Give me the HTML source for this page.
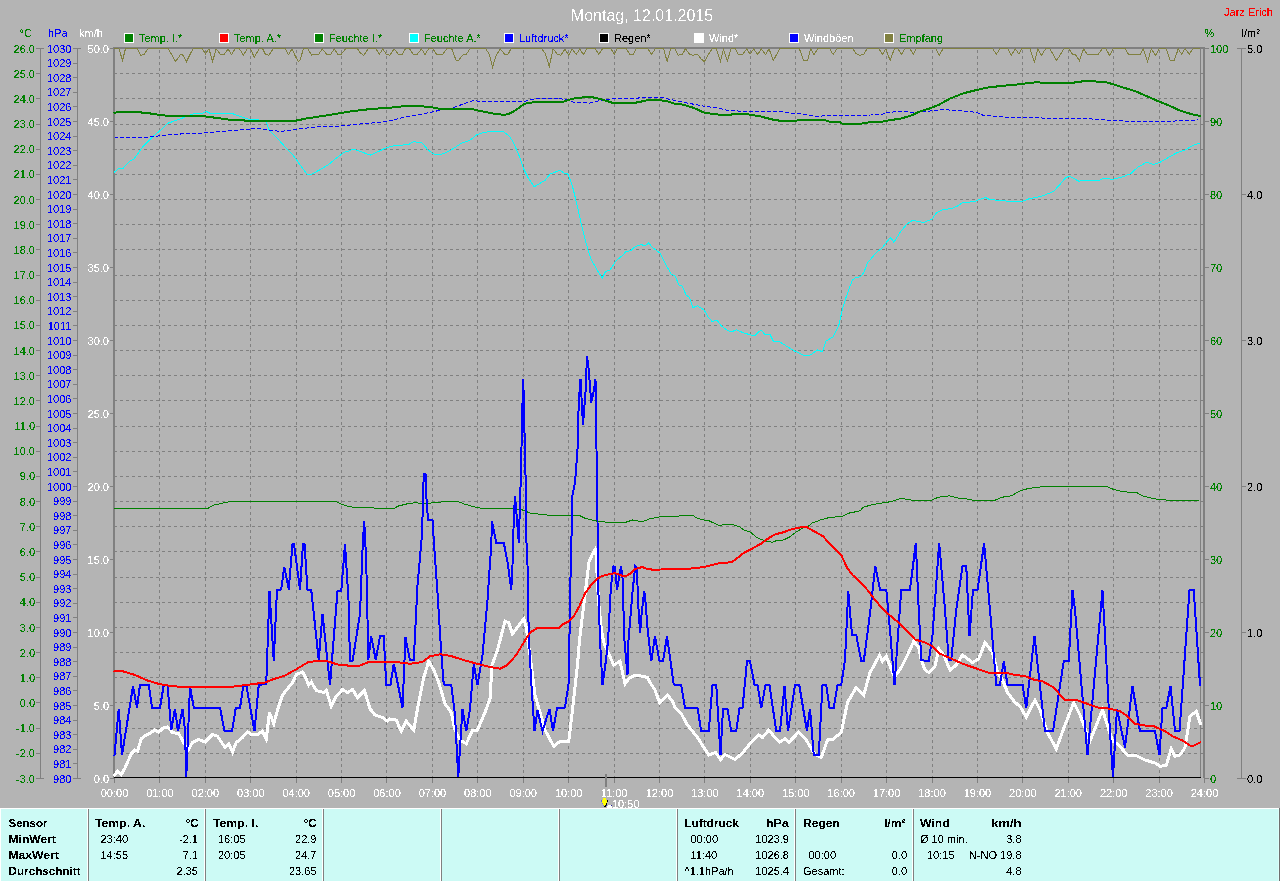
<!DOCTYPE html><html><head><meta charset="utf-8"><title>Montag, 12.01.2015</title><style>
html,body{margin:0;padding:0;background:#b4b4b4;width:1280px;height:881px;overflow:hidden}
svg{display:block}
text{font-family:"Liberation Sans",sans-serif;font-size:11px}
text{filter:url(#crisp)}
.b{font-weight:bold}
.n{font-size:11px}
</style></head><body>
<svg width="1280" height="881" viewBox="0 0 1280 881" shape-rendering="crispEdges">
<defs><filter id="crisp" x="-5%" y="-20%" width="110%" height="140%"><feComponentTransfer><feFuncA type="discrete" tableValues="0 0 0 0 0 0 0 0 0 1 1 1 1 1 1 1 1 1 1 1"/></feComponentTransfer></filter><filter id="crisp2" x="-5%" y="-20%" width="110%" height="140%"><feComponentTransfer><feFuncA type="discrete" tableValues="0 0 0 0 0 0 1 1 1 1"/></feComponentTransfer></filter></defs>
<rect x="0" y="0" width="1280" height="881" fill="#b4b4b4"/>
<text x="642" y="21" text-anchor="middle" fill="#ffffff" style="font-size:16px;filter:url(#crisp2)">Montag, 12.01.2015</text>
<text x="1273" y="16" text-anchor="end" fill="#ff0000">Jarz Erich</text>
<text x="19.5" y="37" fill="#008000">°C</text>
<text x="48" y="37" fill="#0000ff">hPa</text>
<text x="79" y="37" fill="#ffffff">km/h</text>
<text x="1204.5" y="37" fill="#008000">%</text>
<text x="1241.5" y="37" fill="#000000">l/m²</text>
<rect x="124" y="33" width="10" height="10" fill="#ffffff"/><rect x="125" y="34" width="8" height="8" fill="#008000"/>
<text x="139" y="42" fill="#008000">Temp. I.*</text>
<rect x="219" y="33" width="10" height="10" fill="#ffffff"/><rect x="220" y="34" width="8" height="8" fill="#ff0000"/>
<text x="234" y="42" fill="#008000">Temp. A.*</text>
<rect x="314" y="33" width="10" height="10" fill="#ffffff"/><rect x="315" y="34" width="8" height="8" fill="#008000"/>
<text x="329" y="42" fill="#008000">Feuchte I.*</text>
<rect x="409" y="33" width="10" height="10" fill="#ffffff"/><rect x="410" y="34" width="8" height="8" fill="#00ffff"/>
<text x="424" y="42" fill="#008000">Feuchte A.*</text>
<rect x="504" y="33" width="10" height="10" fill="#ffffff"/><rect x="505" y="34" width="8" height="8" fill="#0000ff"/>
<text x="519" y="42" fill="#0000ff">Luftdruck*</text>
<rect x="599" y="33" width="10" height="10" fill="#ffffff"/><rect x="600" y="34" width="8" height="8" fill="#000000"/>
<text x="614" y="42" fill="#000000">Regen*</text>
<rect x="694" y="33" width="10" height="10" fill="#ffffff"/><rect x="695" y="34" width="8" height="8" fill="#ffffff"/>
<text x="709" y="42" fill="#ffffff">Wind*</text>
<rect x="789" y="33" width="10" height="10" fill="#ffffff"/><rect x="790" y="34" width="8" height="8" fill="#0000ff"/>
<text x="804" y="42" fill="#ffffff">Windböen</text>
<rect x="884" y="33" width="10" height="10" fill="#ffffff"/><rect x="885" y="34" width="8" height="8" fill="#808040"/>
<text x="899" y="42" fill="#008000">Empfang</text>
<path d="M114 73.5H1201 M114 98.5H1201 M114 124.5H1201 M114 149.5H1201 M114 174.5H1201 M114 199.5H1201 M114 224.5H1201 M114 249.5H1201 M114 275.5H1201 M114 300.5H1201 M114 325.5H1201 M114 350.5H1201 M114 375.5H1201 M114 400.5H1201 M114 426.5H1201 M114 451.5H1201 M114 476.5H1201 M114 501.5H1201 M114 526.5H1201 M114 551.5H1201 M114 577.5H1201 M114 602.5H1201 M114 627.5H1201 M114 652.5H1201 M114 677.5H1201 M114 702.5H1201 M114 728.5H1201 M114 753.5H1201" stroke="#808080" stroke-width="1" stroke-dasharray="3 3" fill="none"/>
<path d="M159.5 48V783 M205.5 48V783 M250.5 48V783 M296.5 48V783 M341.5 48V783 M386.5 48V783 M432.5 48V783 M477.5 48V783 M523.5 48V783 M568.5 48V783 M614.5 48V783 M659.5 48V783 M704.5 48V783 M750.5 48V783 M795.5 48V783 M841.5 48V783 M886.5 48V783 M932.5 48V783 M977.5 48V783 M1022.5 48V783 M1068.5 48V783 M1113.5 48V783 M1159.5 48V783" stroke="#808080" stroke-width="1" stroke-dasharray="3 3" stroke-dashoffset="4" fill="none"/>
<rect x="113" y="47" width="2" height="731" fill="#808080"/>
<rect x="113" y="47" width="1092" height="2" fill="#808080"/>
<rect x="1200" y="47" width="1" height="731" fill="#808080"/>
<rect x="1203" y="47" width="2" height="731" fill="#808080"/>
<rect x="1201" y="73" width="2" height="1" fill="#808080"/><rect x="1201" y="98" width="2" height="1" fill="#808080"/><rect x="1201" y="124" width="2" height="1" fill="#808080"/><rect x="1201" y="149" width="2" height="1" fill="#808080"/><rect x="1201" y="174" width="2" height="1" fill="#808080"/><rect x="1201" y="199" width="2" height="1" fill="#808080"/><rect x="1201" y="224" width="2" height="1" fill="#808080"/><rect x="1201" y="249" width="2" height="1" fill="#808080"/><rect x="1201" y="275" width="2" height="1" fill="#808080"/><rect x="1201" y="300" width="2" height="1" fill="#808080"/><rect x="1201" y="325" width="2" height="1" fill="#808080"/><rect x="1201" y="350" width="2" height="1" fill="#808080"/><rect x="1201" y="375" width="2" height="1" fill="#808080"/><rect x="1201" y="400" width="2" height="1" fill="#808080"/><rect x="1201" y="426" width="2" height="1" fill="#808080"/><rect x="1201" y="451" width="2" height="1" fill="#808080"/><rect x="1201" y="476" width="2" height="1" fill="#808080"/><rect x="1201" y="501" width="2" height="1" fill="#808080"/><rect x="1201" y="526" width="2" height="1" fill="#808080"/><rect x="1201" y="551" width="2" height="1" fill="#808080"/><rect x="1201" y="577" width="2" height="1" fill="#808080"/><rect x="1201" y="602" width="2" height="1" fill="#808080"/><rect x="1201" y="627" width="2" height="1" fill="#808080"/><rect x="1201" y="652" width="2" height="1" fill="#808080"/><rect x="1201" y="677" width="2" height="1" fill="#808080"/><rect x="1201" y="702" width="2" height="1" fill="#808080"/><rect x="1201" y="728" width="2" height="1" fill="#808080"/><rect x="1201" y="753" width="2" height="1" fill="#808080"/>
<rect x="40" y="48" width="1" height="731" fill="#808080"/>
<rect x="77" y="48" width="1" height="731" fill="#808080"/>
<rect x="1241" y="48" width="1" height="731" fill="#808080"/>
<rect x="36" y="48" width="8" height="1" fill="#808080"/><rect x="36" y="73" width="4" height="1" fill="#808080"/><rect x="36" y="98" width="4" height="1" fill="#808080"/><rect x="36" y="124" width="4" height="1" fill="#808080"/><rect x="36" y="149" width="4" height="1" fill="#808080"/><rect x="36" y="174" width="4" height="1" fill="#808080"/><rect x="36" y="199" width="4" height="1" fill="#808080"/><rect x="36" y="224" width="4" height="1" fill="#808080"/><rect x="36" y="249" width="4" height="1" fill="#808080"/><rect x="36" y="275" width="4" height="1" fill="#808080"/><rect x="36" y="300" width="4" height="1" fill="#808080"/><rect x="36" y="325" width="4" height="1" fill="#808080"/><rect x="36" y="350" width="4" height="1" fill="#808080"/><rect x="36" y="375" width="4" height="1" fill="#808080"/><rect x="36" y="400" width="4" height="1" fill="#808080"/><rect x="36" y="426" width="4" height="1" fill="#808080"/><rect x="36" y="451" width="4" height="1" fill="#808080"/><rect x="36" y="476" width="4" height="1" fill="#808080"/><rect x="36" y="501" width="4" height="1" fill="#808080"/><rect x="36" y="526" width="4" height="1" fill="#808080"/><rect x="36" y="551" width="4" height="1" fill="#808080"/><rect x="36" y="577" width="4" height="1" fill="#808080"/><rect x="36" y="602" width="4" height="1" fill="#808080"/><rect x="36" y="627" width="4" height="1" fill="#808080"/><rect x="36" y="652" width="4" height="1" fill="#808080"/><rect x="36" y="677" width="4" height="1" fill="#808080"/><rect x="36" y="702" width="4" height="1" fill="#808080"/><rect x="36" y="728" width="4" height="1" fill="#808080"/><rect x="36" y="753" width="4" height="1" fill="#808080"/><rect x="36" y="778" width="8" height="1" fill="#808080"/><rect x="73" y="48" width="8" height="1" fill="#808080"/><rect x="73" y="63" width="4" height="1" fill="#808080"/><rect x="73" y="77" width="4" height="1" fill="#808080"/><rect x="73" y="92" width="4" height="1" fill="#808080"/><rect x="73" y="106" width="4" height="1" fill="#808080"/><rect x="73" y="121" width="4" height="1" fill="#808080"/><rect x="73" y="136" width="4" height="1" fill="#808080"/><rect x="73" y="150" width="4" height="1" fill="#808080"/><rect x="73" y="165" width="4" height="1" fill="#808080"/><rect x="73" y="179" width="4" height="1" fill="#808080"/><rect x="73" y="194" width="4" height="1" fill="#808080"/><rect x="73" y="209" width="4" height="1" fill="#808080"/><rect x="73" y="223" width="4" height="1" fill="#808080"/><rect x="73" y="238" width="4" height="1" fill="#808080"/><rect x="73" y="252" width="4" height="1" fill="#808080"/><rect x="73" y="267" width="4" height="1" fill="#808080"/><rect x="73" y="282" width="4" height="1" fill="#808080"/><rect x="73" y="296" width="4" height="1" fill="#808080"/><rect x="73" y="311" width="4" height="1" fill="#808080"/><rect x="73" y="325" width="4" height="1" fill="#808080"/><rect x="73" y="340" width="4" height="1" fill="#808080"/><rect x="73" y="355" width="4" height="1" fill="#808080"/><rect x="73" y="369" width="4" height="1" fill="#808080"/><rect x="73" y="384" width="4" height="1" fill="#808080"/><rect x="73" y="398" width="4" height="1" fill="#808080"/><rect x="73" y="413" width="4" height="1" fill="#808080"/><rect x="73" y="428" width="4" height="1" fill="#808080"/><rect x="73" y="442" width="4" height="1" fill="#808080"/><rect x="73" y="457" width="4" height="1" fill="#808080"/><rect x="73" y="471" width="4" height="1" fill="#808080"/><rect x="73" y="486" width="4" height="1" fill="#808080"/><rect x="73" y="501" width="4" height="1" fill="#808080"/><rect x="73" y="515" width="4" height="1" fill="#808080"/><rect x="73" y="530" width="4" height="1" fill="#808080"/><rect x="73" y="544" width="4" height="1" fill="#808080"/><rect x="73" y="559" width="4" height="1" fill="#808080"/><rect x="73" y="574" width="4" height="1" fill="#808080"/><rect x="73" y="588" width="4" height="1" fill="#808080"/><rect x="73" y="603" width="4" height="1" fill="#808080"/><rect x="73" y="617" width="4" height="1" fill="#808080"/><rect x="73" y="632" width="4" height="1" fill="#808080"/><rect x="73" y="647" width="4" height="1" fill="#808080"/><rect x="73" y="661" width="4" height="1" fill="#808080"/><rect x="73" y="676" width="4" height="1" fill="#808080"/><rect x="73" y="690" width="4" height="1" fill="#808080"/><rect x="73" y="705" width="4" height="1" fill="#808080"/><rect x="73" y="720" width="4" height="1" fill="#808080"/><rect x="73" y="734" width="4" height="1" fill="#808080"/><rect x="73" y="749" width="4" height="1" fill="#808080"/><rect x="73" y="763" width="4" height="1" fill="#808080"/><rect x="73" y="778" width="8" height="1" fill="#808080"/><rect x="110" y="48" width="4" height="1" fill="#808080"/><rect x="1205" y="48" width="4" height="1" fill="#808080"/><rect x="110" y="121" width="4" height="1" fill="#808080"/><rect x="1205" y="121" width="4" height="1" fill="#808080"/><rect x="110" y="194" width="4" height="1" fill="#808080"/><rect x="1205" y="194" width="4" height="1" fill="#808080"/><rect x="110" y="267" width="4" height="1" fill="#808080"/><rect x="1205" y="267" width="4" height="1" fill="#808080"/><rect x="110" y="340" width="4" height="1" fill="#808080"/><rect x="1205" y="340" width="4" height="1" fill="#808080"/><rect x="110" y="413" width="4" height="1" fill="#808080"/><rect x="1205" y="413" width="4" height="1" fill="#808080"/><rect x="110" y="486" width="4" height="1" fill="#808080"/><rect x="1205" y="486" width="4" height="1" fill="#808080"/><rect x="110" y="559" width="4" height="1" fill="#808080"/><rect x="1205" y="559" width="4" height="1" fill="#808080"/><rect x="110" y="632" width="4" height="1" fill="#808080"/><rect x="1205" y="632" width="4" height="1" fill="#808080"/><rect x="110" y="705" width="4" height="1" fill="#808080"/><rect x="1205" y="705" width="4" height="1" fill="#808080"/><rect x="110" y="778" width="4" height="1" fill="#808080"/><rect x="1205" y="778" width="4" height="1" fill="#808080"/><rect x="1237" y="48" width="9" height="1" fill="#808080"/><rect x="1242" y="194" width="4" height="1" fill="#808080"/><rect x="1242" y="340" width="4" height="1" fill="#808080"/><rect x="1242" y="486" width="4" height="1" fill="#808080"/><rect x="1242" y="632" width="4" height="1" fill="#808080"/><rect x="1237" y="778" width="9" height="1" fill="#808080"/>
<text x="35" y="52.5" text-anchor="end" class="n" fill="#008000">26.0</text><text x="35" y="77.7" text-anchor="end" class="n" fill="#008000">25.0</text><text x="35" y="102.8" text-anchor="end" class="n" fill="#008000">24.0</text><text x="35" y="128.0" text-anchor="end" class="n" fill="#008000">23.0</text><text x="35" y="153.2" text-anchor="end" class="n" fill="#008000">22.0</text><text x="35" y="178.4" text-anchor="end" class="n" fill="#008000">21.0</text><text x="35" y="203.5" text-anchor="end" class="n" fill="#008000">20.0</text><text x="35" y="228.7" text-anchor="end" class="n" fill="#008000">19.0</text><text x="35" y="253.9" text-anchor="end" class="n" fill="#008000">18.0</text><text x="35" y="279.1" text-anchor="end" class="n" fill="#008000">17.0</text><text x="35" y="304.2" text-anchor="end" class="n" fill="#008000">16.0</text><text x="35" y="329.4" text-anchor="end" class="n" fill="#008000">15.0</text><text x="35" y="354.6" text-anchor="end" class="n" fill="#008000">14.0</text><text x="35" y="379.7" text-anchor="end" class="n" fill="#008000">13.0</text><text x="35" y="404.9" text-anchor="end" class="n" fill="#008000">12.0</text><text x="35" y="430.1" text-anchor="end" class="n" fill="#008000">11.0</text><text x="35" y="455.3" text-anchor="end" class="n" fill="#008000">10.0</text><text x="35" y="480.4" text-anchor="end" class="n" fill="#008000">9.0</text><text x="35" y="505.6" text-anchor="end" class="n" fill="#008000">8.0</text><text x="35" y="530.8" text-anchor="end" class="n" fill="#008000">7.0</text><text x="35" y="555.9" text-anchor="end" class="n" fill="#008000">6.0</text><text x="35" y="581.1" text-anchor="end" class="n" fill="#008000">5.0</text><text x="35" y="606.3" text-anchor="end" class="n" fill="#008000">4.0</text><text x="35" y="631.5" text-anchor="end" class="n" fill="#008000">3.0</text><text x="35" y="656.6" text-anchor="end" class="n" fill="#008000">2.0</text><text x="35" y="681.8" text-anchor="end" class="n" fill="#008000">1.0</text><text x="35" y="707.0" text-anchor="end" class="n" fill="#008000">0.0</text><text x="35" y="732.2" text-anchor="end" class="n" fill="#008000">-1.0</text><text x="35" y="757.3" text-anchor="end" class="n" fill="#008000">-2.0</text><text x="35" y="782.5" text-anchor="end" class="n" fill="#008000">-3.0</text><text x="71.4" y="52.5" text-anchor="end" class="n" fill="#0000ff">1030</text><text x="71.4" y="67.1" text-anchor="end" class="n" fill="#0000ff">1029</text><text x="71.4" y="81.7" text-anchor="end" class="n" fill="#0000ff">1028</text><text x="71.4" y="96.3" text-anchor="end" class="n" fill="#0000ff">1027</text><text x="71.4" y="110.9" text-anchor="end" class="n" fill="#0000ff">1026</text><text x="71.4" y="125.5" text-anchor="end" class="n" fill="#0000ff">1025</text><text x="71.4" y="140.1" text-anchor="end" class="n" fill="#0000ff">1024</text><text x="71.4" y="154.7" text-anchor="end" class="n" fill="#0000ff">1023</text><text x="71.4" y="169.3" text-anchor="end" class="n" fill="#0000ff">1022</text><text x="71.4" y="183.9" text-anchor="end" class="n" fill="#0000ff">1021</text><text x="71.4" y="198.5" text-anchor="end" class="n" fill="#0000ff">1020</text><text x="71.4" y="213.1" text-anchor="end" class="n" fill="#0000ff">1019</text><text x="71.4" y="227.7" text-anchor="end" class="n" fill="#0000ff">1018</text><text x="71.4" y="242.3" text-anchor="end" class="n" fill="#0000ff">1017</text><text x="71.4" y="256.9" text-anchor="end" class="n" fill="#0000ff">1016</text><text x="71.4" y="271.5" text-anchor="end" class="n" fill="#0000ff">1015</text><text x="71.4" y="286.1" text-anchor="end" class="n" fill="#0000ff">1014</text><text x="71.4" y="300.7" text-anchor="end" class="n" fill="#0000ff">1013</text><text x="71.4" y="315.3" text-anchor="end" class="n" fill="#0000ff">1012</text><text x="71.4" y="329.9" text-anchor="end" class="n" fill="#0000ff">1011</text><text x="71.4" y="344.5" text-anchor="end" class="n" fill="#0000ff">1010</text><text x="71.4" y="359.1" text-anchor="end" class="n" fill="#0000ff">1009</text><text x="71.4" y="373.7" text-anchor="end" class="n" fill="#0000ff">1008</text><text x="71.4" y="388.3" text-anchor="end" class="n" fill="#0000ff">1007</text><text x="71.4" y="402.9" text-anchor="end" class="n" fill="#0000ff">1006</text><text x="71.4" y="417.5" text-anchor="end" class="n" fill="#0000ff">1005</text><text x="71.4" y="432.1" text-anchor="end" class="n" fill="#0000ff">1004</text><text x="71.4" y="446.7" text-anchor="end" class="n" fill="#0000ff">1003</text><text x="71.4" y="461.3" text-anchor="end" class="n" fill="#0000ff">1002</text><text x="71.4" y="475.9" text-anchor="end" class="n" fill="#0000ff">1001</text><text x="71.4" y="490.5" text-anchor="end" class="n" fill="#0000ff">1000</text><text x="71.4" y="505.1" text-anchor="end" class="n" fill="#0000ff">999</text><text x="71.4" y="519.7" text-anchor="end" class="n" fill="#0000ff">998</text><text x="71.4" y="534.3" text-anchor="end" class="n" fill="#0000ff">997</text><text x="71.4" y="548.9" text-anchor="end" class="n" fill="#0000ff">996</text><text x="71.4" y="563.5" text-anchor="end" class="n" fill="#0000ff">995</text><text x="71.4" y="578.1" text-anchor="end" class="n" fill="#0000ff">994</text><text x="71.4" y="592.7" text-anchor="end" class="n" fill="#0000ff">993</text><text x="71.4" y="607.3" text-anchor="end" class="n" fill="#0000ff">992</text><text x="71.4" y="621.9" text-anchor="end" class="n" fill="#0000ff">991</text><text x="71.4" y="636.5" text-anchor="end" class="n" fill="#0000ff">990</text><text x="71.4" y="651.1" text-anchor="end" class="n" fill="#0000ff">989</text><text x="71.4" y="665.7" text-anchor="end" class="n" fill="#0000ff">988</text><text x="71.4" y="680.3" text-anchor="end" class="n" fill="#0000ff">987</text><text x="71.4" y="694.9" text-anchor="end" class="n" fill="#0000ff">986</text><text x="71.4" y="709.5" text-anchor="end" class="n" fill="#0000ff">985</text><text x="71.4" y="724.1" text-anchor="end" class="n" fill="#0000ff">984</text><text x="71.4" y="738.7" text-anchor="end" class="n" fill="#0000ff">983</text><text x="71.4" y="753.3" text-anchor="end" class="n" fill="#0000ff">982</text><text x="71.4" y="767.9" text-anchor="end" class="n" fill="#0000ff">981</text><text x="71.4" y="782.5" text-anchor="end" class="n" fill="#0000ff">980</text><text x="109" y="52.5" text-anchor="end" class="n" fill="#ffffff">50.0</text><text x="1210" y="52.5" class="n" fill="#008000">100</text><text x="109" y="125.5" text-anchor="end" class="n" fill="#ffffff">45.0</text><text x="1210" y="125.5" class="n" fill="#008000">90</text><text x="109" y="198.5" text-anchor="end" class="n" fill="#ffffff">40.0</text><text x="1210" y="198.5" class="n" fill="#008000">80</text><text x="109" y="271.5" text-anchor="end" class="n" fill="#ffffff">35.0</text><text x="1210" y="271.5" class="n" fill="#008000">70</text><text x="109" y="344.5" text-anchor="end" class="n" fill="#ffffff">30.0</text><text x="1210" y="344.5" class="n" fill="#008000">60</text><text x="109" y="417.5" text-anchor="end" class="n" fill="#ffffff">25.0</text><text x="1210" y="417.5" class="n" fill="#008000">50</text><text x="109" y="490.5" text-anchor="end" class="n" fill="#ffffff">20.0</text><text x="1210" y="490.5" class="n" fill="#008000">40</text><text x="109" y="563.5" text-anchor="end" class="n" fill="#ffffff">15.0</text><text x="1210" y="563.5" class="n" fill="#008000">30</text><text x="109" y="636.5" text-anchor="end" class="n" fill="#ffffff">10.0</text><text x="1210" y="636.5" class="n" fill="#008000">20</text><text x="109" y="709.5" text-anchor="end" class="n" fill="#ffffff">5.0</text><text x="1210" y="709.5" class="n" fill="#008000">10</text><text x="109" y="782.5" text-anchor="end" class="n" fill="#ffffff">0.0</text><text x="1210" y="782.5" class="n" fill="#008000">0</text><text x="1247" y="52.5" class="n" fill="#000000">5.0</text><text x="1247" y="198.5" class="n" fill="#000000">4.0</text><text x="1247" y="344.5" class="n" fill="#000000">3.0</text><text x="1247" y="490.5" class="n" fill="#000000">2.0</text><text x="1247" y="636.5" class="n" fill="#000000">1.0</text><text x="1247" y="782.5" class="n" fill="#000000">0.0</text>
<text x="114.5" y="797" text-anchor="middle" class="n" fill="#ffffff">00:00</text><text x="159.9" y="797" text-anchor="middle" class="n" fill="#ffffff">01:00</text><text x="205.3" y="797" text-anchor="middle" class="n" fill="#ffffff">02:00</text><text x="250.8" y="797" text-anchor="middle" class="n" fill="#ffffff">03:00</text><text x="296.2" y="797" text-anchor="middle" class="n" fill="#ffffff">04:00</text><text x="341.6" y="797" text-anchor="middle" class="n" fill="#ffffff">05:00</text><text x="387.0" y="797" text-anchor="middle" class="n" fill="#ffffff">06:00</text><text x="432.4" y="797" text-anchor="middle" class="n" fill="#ffffff">07:00</text><text x="477.8" y="797" text-anchor="middle" class="n" fill="#ffffff">08:00</text><text x="523.2" y="797" text-anchor="middle" class="n" fill="#ffffff">09:00</text><text x="568.7" y="797" text-anchor="middle" class="n" fill="#ffffff">10:00</text><text x="614.1" y="797" text-anchor="middle" class="n" fill="#ffffff">11:00</text><text x="659.5" y="797" text-anchor="middle" class="n" fill="#ffffff">12:00</text><text x="704.9" y="797" text-anchor="middle" class="n" fill="#ffffff">13:00</text><text x="750.3" y="797" text-anchor="middle" class="n" fill="#ffffff">14:00</text><text x="795.8" y="797" text-anchor="middle" class="n" fill="#ffffff">15:00</text><text x="841.2" y="797" text-anchor="middle" class="n" fill="#ffffff">16:00</text><text x="886.6" y="797" text-anchor="middle" class="n" fill="#ffffff">17:00</text><text x="932.0" y="797" text-anchor="middle" class="n" fill="#ffffff">18:00</text><text x="977.4" y="797" text-anchor="middle" class="n" fill="#ffffff">19:00</text><text x="1022.8" y="797" text-anchor="middle" class="n" fill="#ffffff">20:00</text><text x="1068.2" y="797" text-anchor="middle" class="n" fill="#ffffff">21:00</text><text x="1113.7" y="797" text-anchor="middle" class="n" fill="#ffffff">22:00</text><text x="1159.1" y="797" text-anchor="middle" class="n" fill="#ffffff">23:00</text><text x="1204.5" y="797" text-anchor="middle" class="n" fill="#ffffff">24:00</text>
<rect x="114" y="778" width="1" height="5" fill="#808080"/><rect x="159" y="778" width="1" height="5" fill="#808080"/><rect x="205" y="778" width="1" height="5" fill="#808080"/><rect x="250" y="778" width="1" height="5" fill="#808080"/><rect x="296" y="778" width="1" height="5" fill="#808080"/><rect x="341" y="778" width="1" height="5" fill="#808080"/><rect x="386" y="778" width="1" height="5" fill="#808080"/><rect x="432" y="778" width="1" height="5" fill="#808080"/><rect x="477" y="778" width="1" height="5" fill="#808080"/><rect x="523" y="778" width="1" height="5" fill="#808080"/><rect x="568" y="778" width="1" height="5" fill="#808080"/><rect x="614" y="778" width="1" height="5" fill="#808080"/><rect x="659" y="778" width="1" height="5" fill="#808080"/><rect x="704" y="778" width="1" height="5" fill="#808080"/><rect x="750" y="778" width="1" height="5" fill="#808080"/><rect x="795" y="778" width="1" height="5" fill="#808080"/><rect x="841" y="778" width="1" height="5" fill="#808080"/><rect x="886" y="778" width="1" height="5" fill="#808080"/><rect x="932" y="778" width="1" height="5" fill="#808080"/><rect x="977" y="778" width="1" height="5" fill="#808080"/><rect x="1022" y="778" width="1" height="5" fill="#808080"/><rect x="1068" y="778" width="1" height="5" fill="#808080"/><rect x="1113" y="778" width="1" height="5" fill="#808080"/><rect x="1159" y="778" width="1" height="5" fill="#808080"/><rect x="1204" y="778" width="1" height="5" fill="#808080"/>
<g>
<polyline points="114.80,48.60 119.00,48.60 122.50,60.60 125.40,48.90 137.30,48.60 140.80,55.30 144.30,54.10 147.90,48.90 168.30,48.60 175.60,61.60 180.90,54.10 182.30,54.10 186.50,61.60 192.90,48.90 202.00,48.60 205.50,53.80 209.00,48.90 212.60,61.60 216.10,48.90 220.30,54.10 224.50,54.10 228.00,48.90 231.50,54.50 235.10,48.90 239.30,48.60 243.50,55.30 247.00,48.90 250.50,48.60 254.30,57.40 259.00,48.90 262.50,48.60 265.30,54.10 268.80,55.30 273.00,48.90 285.00,48.60 288.50,54.50 292.10,48.90 295.60,56.70 298.40,61.60 299.80,60.60 303.40,48.90 307.60,48.60 311.80,55.30 313.90,54.10 318.80,54.10 322.30,48.90 326.60,54.10 330.80,54.10 334.30,48.90 337.80,54.10 341.30,54.10 345.60,48.90 357.50,48.60 360.30,53.10 363.80,55.30 368.10,48.90 375.80,48.60 379.30,54.50 382.80,48.90 386.30,54.10 389.90,55.30 394.10,48.90 398.30,54.10 402.50,54.10 405.30,48.90 409.50,48.60 413.10,54.10 417.30,54.10 421.50,48.90 425.00,54.50 428.50,48.90 432.80,48.60 436.30,54.10 442.60,54.50 446.80,48.90 451.70,48.60 456.00,60.20 458.80,60.20 462.30,55.30 466.50,54.10 470.10,48.60 485.60,48.60 489.10,53.80 492.60,67.20 496.10,55.30 500.30,48.90 504.60,54.10 508.10,54.10 510.90,48.90 541.80,48.60 545.40,53.80 549.30,66.50 553.10,48.90 557.30,54.10 560.80,55.30 565.00,48.90 568.60,55.30 572.10,48.90 576.30,54.50 579.80,48.90 583.30,54.50 586.80,48.90 595.30,48.60 598.80,54.50 602.30,48.90 610.80,48.60 614.30,54.10 617.10,48.90 626.20,48.60 629.70,54.10 633.30,54.10 636.10,48.90 648.10,48.90 651.60,54.50 655.10,48.90 663.60,48.60 667.10,61.60 670.60,48.90 674.80,48.90 678.30,55.30 682.60,54.10 685.40,48.90 689.60,54.10 693.10,55.30 697.30,54.10 700.90,58.80 704.40,61.60 707.90,55.30 712.10,48.90 716.30,48.60 720.50,61.60 723.40,48.90 727.30,60.90 731.10,48.90 735.30,48.60 738.10,54.10 743.00,54.10 746.60,48.90 750.10,54.10 753.60,48.90 757.80,54.50 761.30,48.90 765.50,54.50 769.10,48.90 773.30,60.60 779.60,48.90 799.30,48.60 803.50,60.20 807.70,60.20 810.60,48.90 814.10,54.50 817.60,48.90 829.60,48.60 833.10,54.50 836.90,48.90 852.80,48.60 856.30,53.80 860.30,55.50 864.10,53.80 866.90,48.90 878.90,48.60 882.40,54.50 885.90,48.90 890.10,60.60 894.30,48.90 897.80,48.60 901.40,54.50 904.90,48.90 909.80,48.60 913.30,54.50 916.10,48.90 935.80,48.60 939.30,55.50 942.80,48.90 992.80,48.60 996.30,54.50 999.80,48.90 1007.60,48.60 1011.10,55.30 1015.40,48.90 1018.90,54.10 1021.70,48.90 1030.10,48.60 1034.30,62.30 1037.90,48.90 1041.40,55.30 1045.60,48.90 1049.80,48.60 1056.60,60.60 1063.90,48.90 1068.80,48.60 1072.30,54.10 1075.10,54.10 1079.40,60.60 1083.60,48.90 1087.10,54.10 1098.30,54.10 1102.10,48.90 1106.00,48.80 1109.60,55.50 1113.10,48.90 1125.10,48.60 1128.40,54.10 1140.40,54.10 1143.40,48.90 1147.60,61.50 1151.30,48.90 1155.50,55.50 1159.00,48.90 1166.00,48.60 1170.20,60.20 1174.40,60.20 1178.20,48.90 1181.60,54.20 1185.10,48.60 1189.20,54.20 1193.20,48.60 1199.80,48.60" fill="none" stroke="#808040" stroke-width="1" stroke-linejoin="miter" stroke-linecap="square"/>
<polyline points="114.40,172.00 118.70,168.70 123.10,168.30 129.70,161.00 134.00,158.90 142.80,146.80 153.80,135.90 160.30,130.40 168.00,123.20 175.60,120.60 184.40,117.30 193.10,114.00 201.90,113.60 206.30,111.40 210.60,113.60 232.50,113.60 241.30,116.90 250.00,119.50 256.60,119.50 266.40,121.70 268.60,129.30 276.30,137.00 285.00,146.80 291.60,153.40 298.10,162.10 306.90,174.20 311.30,174.20 320.00,169.80 328.80,164.30 335.30,158.90 344.10,152.30 348.50,151.20 352.80,149.00 359.40,151.20 370.30,155.10 379.10,151.20 384.40,148.60 390.90,146.20 401.90,145.10 408.40,144.60 413.90,141.40 418.30,142.90 421.60,142.40 428.10,150.10 433.60,154.00 439.10,154.90 445.60,152.90 454.40,147.90 460.90,143.50 469.70,140.30 477.40,134.40 485.00,132.20 493.80,131.10 502.50,131.10 509.10,135.90 513.40,142.40 520.00,157.80 523.80,169.10 528.40,178.20 534.10,186.80 540.90,182.70 545.40,180.00 550.00,174.10 560.20,170.20 564.70,173.60 568.10,174.10 572.70,187.20 577.20,205.40 581.70,225.80 586.30,244.00 590.80,258.80 596.50,269.00 602.20,278.10 605.60,271.30 610.10,270.10 615.80,261.00 622.60,255.40 626.00,251.50 630.60,250.80 634.00,247.40 640.80,244.50 645.30,245.80 648.70,242.90 652.10,247.40 660.10,253.10 665.80,264.50 671.40,274.70 674.80,275.40 679.40,286.00 681.70,285.30 686.20,295.10 689.60,297.40 693.00,307.60 697.50,305.80 704.40,310.30 707.80,316.70 712.30,321.70 716.80,320.10 721.40,325.80 727.10,330.30 731.60,331.90 736.10,329.80 744.10,333.00 754.30,336.00 761.10,329.80 764.50,334.20 770.20,334.80 773.60,341.70 779.50,341.60 786.70,346.30 793.80,350.60 804.50,355.90 810.50,354.90 817.70,349.90 822.40,351.80 826.00,341.10 833.10,336.80 839.10,324.40 842.70,307.70 846.20,297.00 852.20,280.30 855.80,277.50 860.50,276.70 864.10,272.00 867.70,262.50 877.20,251.70 882.00,248.20 890.30,237.40 893.90,242.20 899.90,232.70 907.00,223.90 913.00,220.00 917.70,221.50 923.70,222.40 932.00,219.10 936.80,212.40 943.90,209.30 951.10,208.80 958.20,205.70 963.00,202.40 974.90,201.70 979.70,199.30 985.60,197.60 989.20,199.30 998.70,200.50 1008.30,201.20 1022.60,201.20 1029.70,198.60 1041.60,196.20 1053.50,191.50 1059.50,185.00 1065.40,177.90 1069.50,176.10 1078.60,181.10 1087.60,180.40 1099.00,180.40 1103.50,178.10 1112.60,179.30 1123.90,176.50 1130.70,173.60 1137.50,167.50 1146.60,162.30 1153.40,164.50 1160.10,162.30 1166.90,158.40 1176.00,153.20 1185.10,150.00 1191.90,145.90 1199.80,143.00" fill="none" stroke="#00ffff" stroke-width="1" stroke-linejoin="miter" stroke-linecap="square"/>
<polyline points="114.40,137.00 142.80,137.40 153.80,136.50 175.60,134.10 197.50,133.70 208.40,132.60 219.40,131.50 241.30,129.80 258.80,128.20 267.50,129.80 280.60,131.50 296.00,129.30 317.80,126.70 339.70,126.00 361.60,123.90 380.00,122.30 390.90,120.60 401.90,117.70 423.80,113.60 443.40,109.60 454.40,107.40 465.30,103.10 474.10,100.40 480.00,101.50 522.20,102.00 531.00,99.80 537.50,98.70 559.40,98.30 568.10,100.40 572.50,102.00 590.00,103.10 596.60,101.30 605.30,99.10 631.60,98.70 642.50,97.60 660.00,97.20 671.90,99.80 685.00,102.60 702.50,105.90 720.00,108.50 726.60,110.10 748.40,111.80 781.30,111.80 792.20,113.60 803.10,114.00 816.30,116.20 846.90,115.10 868.80,115.10 881.90,114.40 888.40,112.30 901.60,111.40 908.10,111.80 912.50,112.90 920.00,112.00 942.70,109.70 958.50,110.40 976.60,112.40 983.40,115.40 1010.60,117.60 1022.00,117.60 1101.20,119.20 1108.00,120.60 1123.90,121.00 1146.60,121.70 1191.90,120.60 1197.50,119.90" fill="none" stroke="#0000ff" stroke-width="1" stroke-linejoin="miter" stroke-linecap="square" stroke-dasharray="3 3" stroke-linecap="butt"/>
<polyline points="114.40,112.90 118.70,111.80 139.50,111.80 142.80,112.90 151.60,113.60 160.30,115.10 168.00,115.80 204.00,116.20 217.20,118.00 230.30,119.90 246.70,120.60 296.00,120.60 306.90,118.40 328.80,115.10 350.60,111.40 372.50,108.80 390.00,107.90 393.10,107.40 406.30,105.90 421.60,106.30 432.50,107.40 439.10,108.80 471.90,108.80 478.40,110.70 493.80,113.60 502.50,114.70 508.00,114.40 515.60,110.30 524.40,103.70 533.10,102.40 561.60,102.40 572.50,98.70 579.10,97.60 592.20,97.20 603.10,99.80 611.90,102.60 636.00,102.60 646.90,100.40 660.00,100.20 667.50,101.30 674.10,103.50 682.80,104.60 693.80,107.90 704.70,112.90 720.00,114.70 731.00,114.70 733.10,113.80 746.30,114.00 759.40,116.20 772.50,119.50 781.30,121.00 794.40,121.00 803.10,119.50 809.70,119.50 825.00,120.10 829.40,121.70 840.30,122.30 842.50,123.90 860.00,123.90 868.80,122.30 881.90,121.70 890.60,120.10 901.60,118.40 912.50,115.10 919.10,111.80 929.10,108.60 938.10,105.20 949.50,98.80 963.00,93.40 976.60,90.00 988.00,87.50 1001.60,85.90 1019.70,84.30 1028.70,83.00 1037.80,82.10 1042.30,83.00 1071.80,83.00 1078.60,81.80 1087.60,80.90 1094.40,81.40 1105.80,82.10 1114.80,84.80 1123.90,87.70 1135.20,91.10 1146.60,96.10 1157.90,101.10 1169.20,105.60 1180.50,110.80 1191.90,114.20 1199.80,116.00" fill="none" stroke="#008000" stroke-width="2" stroke-linejoin="miter" stroke-linecap="square"/>
<polyline points="114.40,508.10 208.40,508.10 212.80,505.30 228.10,502.00 239.10,501.10 335.30,501.10 341.90,504.40 348.50,506.40 355.00,507.50 372.50,507.50 375.80,508.60 393.75,508.75 397.50,506.25 407.50,503.75 416.25,502.50 421.25,503.75 437.50,502.50 442.50,501.75 458.75,501.75 465.00,504.25 473.75,506.75 480.00,508.00 497.50,508.75 515.00,508.75 522.50,510.00 530.00,513.00 542.50,514.50 552.50,515.75 580.00,515.75 585.00,518.25 597.50,521.25 610.00,522.50 625.00,522.50 632.50,520.00 642.50,521.75 650.00,518.75 658.80,517.00 665.30,516.40 682.80,515.90 692.70,515.30 697.00,518.10 704.70,520.30 709.10,520.80 713.40,522.90 720.00,525.80 724.40,524.30 732.00,524.30 739.70,526.90 744.10,530.20 750.60,532.30 757.20,537.80 766.00,541.10 772.50,542.20 776.90,540.40 783.40,540.00 790.00,536.70 796.60,531.70 803.10,528.00 807.50,526.90 811.90,523.20 820.60,519.90 829.40,517.50 842.50,516.40 849.10,513.10 860.00,510.90 863.30,507.20 871.00,505.00 879.70,503.30 890.60,501.70 900.50,498.40 912.50,500.20 931.60,500.20 938.10,497.30 949.10,495.80 957.80,498.00 964.40,498.40 973.10,500.20 995.00,500.20 1001.60,497.30 1011.40,495.80 1019.10,491.20 1027.80,488.60 1037.70,487.10 1051.90,486.40 1106.60,486.40 1113.10,489.30 1124.10,491.90 1136.10,492.30 1143.80,496.30 1154.70,498.90 1165.60,500.00 1198.50,500.60" fill="none" stroke="#008000" stroke-width="1" stroke-linejoin="miter" stroke-linecap="square"/>
<polyline points="114.50,775.00 117.50,771.25 121.25,774.50 125.00,768.00 131.25,753.75 135.00,750.00 137.50,751.25 141.25,738.75 146.25,735.00 151.25,732.50 154.50,730.00 158.75,732.00 163.75,727.50 167.50,727.00 172.50,732.50 178.75,733.75 185.00,745.00 187.50,751.25 192.50,742.50 198.75,739.50 205.00,742.00 212.50,734.50 217.50,736.25 225.00,747.50 228.75,743.75 232.50,752.00 236.25,742.50 242.50,737.50 247.50,732.00 252.50,735.00 257.50,734.50 262.50,731.25 266.25,738.75 269.50,712.50 273.75,723.75 277.50,710.00 282.50,695.00 287.50,688.75 292.50,682.50 296.25,674.50 302.50,672.00 305.00,676.25 308.75,685.00 311.25,682.00 316.25,690.50 323.75,692.50 326.25,690.00 331.25,706.25 336.25,696.25 342.50,689.50 347.50,692.50 352.50,689.50 357.50,697.50 364.50,690.50 370.00,708.75 375.00,715.00 382.50,717.50 387.50,721.25 390.00,719.00 396.25,720.00 401.25,731.25 406.25,721.25 413.75,730.00 417.50,708.75 423.75,677.50 428.75,661.25 433.75,670.00 438.75,682.50 445.00,703.75 451.25,712.50 455.00,730.00 460.00,740.00 466.25,743.75 472.50,730.00 477.50,730.00 485.00,712.50 490.00,698.75 492.00,665.00 497.50,650.00 505.00,621.25 508.75,622.50 512.50,633.75 523.75,618.75 526.25,627.50 530.00,655.00 535.00,695.00 545.00,730.00 553.75,746.25 560.00,741.25 568.75,741.25 572.50,710.00 577.50,665.00 579.50,640.00 585.00,594.90 589.00,562.20 592.40,554.00 595.20,549.30 596.50,558.10 597.20,578.60 598.60,601.70 601.30,629.00 603.75,642.50 613.75,665.00 620.00,661.25 625.00,683.75 630.00,677.50 636.25,675.00 642.50,676.25 647.50,677.50 650.00,682.50 655.00,690.00 659.50,702.50 667.50,695.00 672.50,701.25 675.00,707.50 681.25,713.75 687.50,725.00 697.50,737.50 708.75,755.00 715.50,752.50 720.50,759.50 725.00,754.50 735.00,759.50 742.50,753.00 750.00,743.75 758.75,735.00 762.50,737.50 768.75,730.00 775.00,737.50 780.00,742.00 785.00,738.75 788.75,742.50 798.75,732.00 806.25,740.00 815.00,754.50 821.25,757.50 827.50,740.00 832.50,739.50 841.25,732.50 847.50,702.50 856.25,687.50 863.75,695.00 870.00,672.50 875.00,663.75 879.50,655.00 882.50,661.25 886.25,656.25 894.50,677.00 901.25,667.50 907.50,655.00 913.75,641.25 918.75,647.50 921.25,660.00 925.00,670.00 928.75,672.50 935.00,666.25 938.75,648.75 943.75,655.00 950.00,670.00 956.25,665.00 962.50,655.00 972.50,662.50 978.75,658.75 985.00,642.50 992.50,652.50 997.50,672.50 1002.50,680.00 1007.50,692.50 1015.00,702.50 1020.00,706.25 1026.25,717.00 1035.00,700.00 1040.00,710.00 1047.50,732.50 1056.25,748.75 1065.00,725.00 1073.75,702.50 1080.00,715.00 1090.00,741.25 1102.50,710.00 1112.50,741.25 1117.50,743.75 1127.50,755.00 1135.00,755.00 1145.00,760.00 1155.00,763.00 1160.00,766.25 1166.25,765.50 1171.25,748.75 1175.00,756.25 1180.00,755.00 1185.00,747.50 1190.00,716.25 1196.25,711.25 1200.50,723.75" fill="none" stroke="#ffffff" stroke-width="3" stroke-linejoin="miter" stroke-linecap="square"/>
<polyline points="114.50,755.00 118.75,708.75 122.00,755.00 133.00,686.25 137.00,707.50 140.00,685.00 148.75,685.00 152.00,707.50 160.00,707.50 163.75,685.00 167.50,685.00 171.25,730.00 175.00,708.75 178.00,731.25 182.50,708.75 185.00,730.00 186.25,777.00 187.50,747.50 190.00,686.25 193.75,707.50 220.00,707.50 224.50,731.25 232.00,731.25 235.75,708.00 240.00,708.00 243.25,686.25 246.50,686.25 254.50,731.25 258.75,685.00 266.25,683.75 267.00,662.50 269.50,591.00 273.75,661.25 277.00,590.00 281.25,589.50 284.25,567.00 288.75,589.50 292.50,544.00 294.00,544.00 300.00,589.50 303.00,544.00 304.50,544.00 307.50,589.50 311.25,590.00 318.75,660.00 322.50,613.75 330.00,685.00 337.50,591.25 341.25,591.00 345.00,544.00 348.50,600.00 350.00,661.25 352.50,661.25 360.00,613.75 362.70,545.30 364.20,521.00 366.00,556.00 367.00,591.00 368.25,660.00 371.25,636.25 375.75,660.00 380.00,636.25 383.75,636.25 386.25,685.00 390.50,685.00 393.75,663.75 402.50,707.50 405.50,637.50 410.00,660.00 413.75,660.00 417.50,585.00 422.00,535.00 423.75,474.00 425.50,474.00 426.25,495.00 428.00,520.00 432.50,520.00 433.75,540.00 437.50,592.50 441.25,652.50 443.75,684.50 451.25,685.00 455.00,715.00 458.25,777.00 460.50,740.00 462.50,708.75 466.25,731.25 470.00,708.75 473.75,663.75 477.50,685.00 482.50,655.00 487.50,600.00 491.25,545.00 492.00,521.25 496.25,542.50 503.75,542.50 508.00,565.00 511.25,590.00 512.50,565.00 513.75,520.00 515.00,496.25 517.00,520.00 518.75,542.50 520.00,505.00 521.25,461.25 522.00,420.00 523.25,378.75 524.50,432.50 525.75,485.00 526.25,537.50 527.50,565.00 528.75,635.00 531.25,682.50 534.50,731.25 537.50,710.00 542.50,731.25 549.50,708.75 553.00,731.25 557.00,708.00 565.00,707.50 568.75,682.50 570.20,590.80 571.30,544.50 572.50,495.00 575.00,482.50 577.50,450.00 578.75,402.50 580.50,378.75 583.00,425.00 585.50,392.50 587.00,356.25 588.75,370.00 591.25,402.50 593.75,391.25 595.50,378.75 596.50,448.75 597.50,520.00 597.90,577.00 599.20,615.30 600.00,640.00 602.50,685.00 606.00,660.00 608.10,640.00 610.80,588.00 613.50,566.30 615.00,567.00 617.00,589.50 619.00,578.60 621.00,566.30 622.50,578.00 624.40,640.00 627.50,675.00 628.50,640.00 632.60,590.80 635.30,566.30 637.00,568.00 638.00,601.70 640.10,633.00 641.50,615.30 644.20,590.80 645.50,601.70 647.60,629.00 651.25,661.25 655.00,636.25 659.50,661.25 663.00,661.25 667.00,636.25 673.75,684.50 681.25,685.00 685.00,708.00 697.50,708.00 701.25,731.25 708.75,731.25 712.50,685.00 716.25,685.00 720.50,755.00 723.00,708.75 727.50,708.75 731.25,731.25 736.25,731.25 739.50,708.00 742.50,708.00 747.00,661.25 750.00,661.25 754.50,684.50 757.50,685.00 761.25,708.00 765.50,685.00 769.50,685.00 776.25,731.25 780.00,731.25 784.50,686.25 788.00,731.25 795.00,685.00 799.25,685.00 807.00,731.25 810.00,708.75 813.75,755.00 818.75,755.00 822.50,685.00 826.25,685.00 829.50,708.00 833.75,708.00 837.50,685.00 841.25,685.00 845.00,660.00 848.25,591.25 852.00,635.00 856.25,635.00 861.25,661.25 863.75,661.25 870.00,613.75 875.30,566.30 880.00,589.50 886.25,589.50 890.50,636.25 894.50,685.00 901.25,589.50 910.00,589.50 915.80,543.30 918.75,610.00 921.25,660.00 928.75,661.25 932.50,635.00 939.20,543.30 945.00,610.00 948.75,660.00 951.25,660.00 956.25,610.00 962.50,565.80 966.25,565.80 969.50,636.25 973.00,590.00 977.50,590.00 984.10,543.30 990.00,610.00 996.25,684.50 1000.00,684.50 1003.75,661.25 1007.50,684.50 1022.50,684.50 1026.25,708.00 1034.50,636.25 1045.00,731.25 1053.00,731.25 1063.75,661.25 1068.75,661.25 1072.50,590.50 1075.00,610.00 1087.50,755.00 1102.50,590.50 1105.00,635.00 1110.00,732.50 1113.00,777.00 1117.00,708.75 1125.00,747.50 1132.50,686.25 1140.00,731.25 1155.00,731.25 1159.50,755.00 1162.50,708.00 1166.25,708.00 1170.50,686.25 1175.00,731.25 1179.50,731.25 1189.50,590.00 1193.75,590.00 1200.00,685.00" fill="none" stroke="#0000ff" stroke-width="2" stroke-linejoin="miter" stroke-linecap="square"/>
<polyline points="114.50,670.75 122.50,671.25 135.00,675.00 147.50,680.50 160.00,684.25 172.50,686.25 185.00,687.00 230.00,687.00 250.00,684.50 265.00,682.50 272.50,679.50 285.00,675.50 295.00,670.00 307.50,662.50 317.50,660.75 327.50,661.25 337.50,664.50 347.50,665.50 360.00,665.50 367.50,662.50 380.00,662.00 400.00,662.50 410.00,663.75 422.50,662.00 430.00,656.25 440.00,654.25 450.00,655.75 465.00,660.50 480.00,664.50 490.00,667.00 500.00,668.75 507.50,665.00 516.25,655.00 523.75,642.50 530.00,632.50 537.50,628.00 545.40,627.60 559.10,627.60 561.80,624.90 568.60,621.50 574.00,616.00 579.50,605.80 585.00,593.50 591.80,584.00 597.20,578.60 602.60,575.80 608.10,574.50 614.90,573.10 621.70,575.60 626.50,575.80 629.90,573.80 635.30,569.00 642.10,567.00 647.60,569.00 653.00,569.70 661.00,569.50 693.80,568.40 704.70,566.90 720.00,563.00 731.00,562.30 735.30,559.70 744.10,552.70 752.80,548.30 761.60,543.30 769.20,537.80 774.70,534.50 783.40,532.30 792.20,529.10 801.00,527.30 806.40,526.90 814.10,531.30 822.80,536.10 829.40,543.30 836.00,549.90 841.40,555.30 846.90,567.40 852.40,575.00 857.80,579.40 867.50,590.00 875.00,600.00 883.75,610.00 893.75,618.75 900.00,623.75 907.50,631.25 915.00,639.50 925.00,642.50 932.50,646.25 940.00,653.75 950.00,658.00 962.50,663.75 975.00,668.00 987.50,672.50 1000.00,673.00 1007.50,673.00 1012.50,674.50 1025.00,676.25 1035.00,680.00 1042.50,681.25 1053.75,687.50 1065.00,700.50 1075.00,699.50 1085.00,703.00 1097.50,707.50 1110.00,708.75 1120.00,711.25 1127.50,716.25 1135.00,723.75 1145.00,725.50 1153.75,726.25 1165.00,731.25 1172.50,736.25 1182.50,740.50 1190.00,745.50 1193.75,745.50 1200.00,742.50" fill="none" stroke="#ff0000" stroke-width="2" stroke-linejoin="miter" stroke-linecap="square"/>
</g>
<rect x="114" y="777" width="1087" height="1" fill="#000000"/>
<rect x="605" y="774" width="2" height="13" fill="#808080"/>
<text x="612" y="808" fill="#ffffff">10:50</text>
<rect x="603" y="798" width="3" height="2" fill="#ffff00"/><rect x="602" y="800" width="5" height="3" fill="#ffff00"/><rect x="603" y="803" width="3" height="2" fill="#ffff00"/><rect x="604" y="805" width="2" height="1" fill="#ffff00"/><rect x="607" y="800" width="1" height="2" fill="#000000"/><rect x="606" y="803" width="1" height="2" fill="#000000"/><rect x="605" y="805" width="1" height="1" fill="#000000"/><rect x="604" y="806" width="2" height="1" fill="#000000"/><rect x="601" y="800" width="1" height="2" fill="#6060e0"/><rect x="602" y="803" width="1" height="1" fill="#7070e0"/><rect x="603" y="805" width="1" height="1" fill="#7070e0"/><rect x="607" y="806" width="5" height="2" fill="#ffffff"/><rect x="608" y="805" width="3" height="1" fill="#ffffff"/><rect x="606" y="805" width="1" height="1" fill="#2020a0"/><rect x="611" y="805" width="1" height="1" fill="#2020a0"/>
<rect x="0" y="808" width="1280" height="73" fill="#ffffff"/>
<rect x="1" y="809" width="1278" height="72" fill="#ccfaf5"/>
<rect x="1279" y="808" width="1" height="73" fill="#707070"/><rect x="1278" y="809" width="1" height="72" fill="#dcfffb"/>
<rect x="87" y="809" width="1" height="72" fill="#ffffff"/><rect x="88" y="809" width="1" height="72" fill="#808080"/>
<rect x="204" y="809" width="1" height="72" fill="#ffffff"/><rect x="205" y="809" width="1" height="72" fill="#808080"/>
<rect x="322" y="809" width="1" height="72" fill="#ffffff"/><rect x="323" y="809" width="1" height="72" fill="#808080"/>
<rect x="440" y="809" width="1" height="72" fill="#ffffff"/><rect x="441" y="809" width="1" height="72" fill="#808080"/>
<rect x="558" y="809" width="1" height="72" fill="#ffffff"/><rect x="559" y="809" width="1" height="72" fill="#808080"/>
<rect x="676" y="809" width="1" height="72" fill="#ffffff"/><rect x="677" y="809" width="1" height="72" fill="#808080"/>
<rect x="794" y="809" width="1" height="72" fill="#ffffff"/><rect x="795" y="809" width="1" height="72" fill="#808080"/>
<rect x="912" y="809" width="1" height="72" fill="#ffffff"/><rect x="913" y="809" width="1" height="72" fill="#808080"/>
<text x="8.5" y="827" class="b" textLength="39.0" lengthAdjust="spacingAndGlyphs" fill="#000">Sensor</text>
<text x="8.5" y="843" class="b" textLength="47.3" lengthAdjust="spacingAndGlyphs" fill="#000">MinWert</text>
<text x="8.5" y="859" class="b" textLength="50.4" lengthAdjust="spacingAndGlyphs" fill="#000">MaxWert</text>
<text x="8.5" y="875" class="b" textLength="72.1" lengthAdjust="spacingAndGlyphs" fill="#000">Durchschnitt</text>
<text x="95" y="827" class="b" textLength="50.3" lengthAdjust="spacingAndGlyphs" fill="#000">Temp. A.</text>
<text x="198.5" y="827" text-anchor="end" class="b" textLength="12.8" lengthAdjust="spacingAndGlyphs" fill="#000">°C</text>
<text x="100.5" y="843" fill="#000">23:40</text>
<text x="198" y="843" text-anchor="end" fill="#000">-2.1</text>
<text x="100.5" y="859" fill="#000">14:55</text>
<text x="198" y="859" text-anchor="end" fill="#000">7.1</text>
<text x="198" y="875" text-anchor="end" fill="#000">2.35</text>
<text x="213" y="827" class="b" textLength="45.3" lengthAdjust="spacingAndGlyphs" fill="#000">Temp. I.</text>
<text x="316.5" y="827" text-anchor="end" class="b" textLength="12.8" lengthAdjust="spacingAndGlyphs" fill="#000">°C</text>
<text x="218" y="843" fill="#000">16:05</text>
<text x="316.5" y="843" text-anchor="end" fill="#000">22.9</text>
<text x="218" y="859" fill="#000">20:05</text>
<text x="316.5" y="859" text-anchor="end" fill="#000">24.7</text>
<text x="316.5" y="875" text-anchor="end" fill="#000">23.65</text>
<text x="684.5" y="827" class="b" textLength="54.3" lengthAdjust="spacingAndGlyphs" fill="#000">Luftdruck</text>
<text x="789" y="827" text-anchor="end" class="b" textLength="23.1" lengthAdjust="spacingAndGlyphs" fill="#000">hPa</text>
<text x="690.5" y="843" fill="#000">00:00</text>
<text x="789" y="843" text-anchor="end" fill="#000">1023.9</text>
<text x="690.5" y="859" fill="#000">11:40</text>
<text x="789" y="859" text-anchor="end" fill="#000">1026.8</text>
<text x="684.5" y="875" fill="#000">^1.1hPa/h</text>
<text x="789" y="875" text-anchor="end" fill="#000">1025.4</text>
<text x="803" y="827" class="b" textLength="36.8" lengthAdjust="spacingAndGlyphs" fill="#000">Regen</text>
<text x="905.5" y="827" text-anchor="end" class="b" textLength="21.6" lengthAdjust="spacingAndGlyphs" fill="#000">l/m²</text>
<text x="808.5" y="859" fill="#000">00:00</text>
<text x="907" y="859" text-anchor="end" fill="#000">0.0</text>
<text x="803" y="875" fill="#000">Gesamt:</text>
<text x="907" y="875" text-anchor="end" fill="#000">0.0</text>
<text x="920" y="827" class="b" textLength="29.7" lengthAdjust="spacingAndGlyphs" fill="#000">Wind</text>
<text x="1021.5" y="827" text-anchor="end" class="b" textLength="30.3" lengthAdjust="spacingAndGlyphs" fill="#000">km/h</text>
<text x="920" y="843" fill="#000">Ø 10 min.</text>
<text x="1021.5" y="843" text-anchor="end" fill="#000">3.8</text>
<text x="927" y="859" fill="#000">10:15</text>
<text x="1021.5" y="859" text-anchor="end" fill="#000">N-NO 19.8</text>
<text x="1021.5" y="875" text-anchor="end" fill="#000">4.8</text>
</svg></body></html>
